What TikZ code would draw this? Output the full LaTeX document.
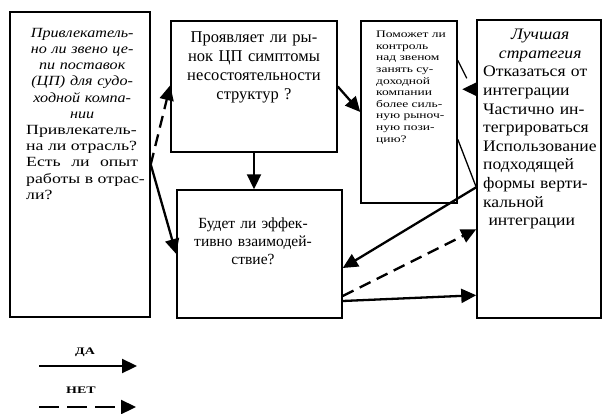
\documentclass[tikz,border=0pt]{standalone}
\usepackage{fontspec}
\setmainfont{Liberation Serif}
\usetikzlibrary{arrows.meta,calc}
\newlength\lw
\newcommand\LineL[1]{\makebox[\lw][l]{#1}}
\newcommand\LineC[1]{\makebox[\lw][c]{#1}}
\newcommand\LineS[1]{\makebox[\lw][s]{#1}}
\newcommand\wide[3]{\fontsize{#1}{#2}\selectfont\addfontfeature{FakeStretch=#3}\spaceskip=0pt\xspaceskip=0pt\relax}
\begin{document}
\begin{tikzpicture}[x=1pt,y=-1pt,
  box/.style={draw,line width=1.5pt,inner sep=0pt},
  txt/.style={inner sep=0pt,align=left},
  arr/.style={line width=2.3pt,-{Triangle[length=15pt,width=14pt]}},
  dsh/.style={arr,dash pattern=on 12pt off 7pt},
  thin/.style={line width=1.3pt}]
\useasboundingbox (0,0) rectangle (604,414);
% boxes
\node[box,minimum width=140pt,minimum height=305pt] (b1) at (80,164.5) {};
\node[box,minimum width=166pt,minimum height=131pt] (b2) at (254,86.5) {};
\node[box,minimum width=96pt,minimum height=182pt] (b3) at (409,112) {};
\node[box,minimum width=124pt,minimum height=298pt] (b4) at (539,169) {};
\node[box,minimum width=165pt,minimum height=128pt] (b5) at (259.5,254) {};
% texts
\node[txt,anchor=north west,text width=112pt,font=\wide{14}{16.2}{1.15}] (t1) at (26,28)
 {\setlength\lw{112pt}\itshape
  \LineC{Привлекатель-}\\\LineC{но ли звено це-}\\\LineC{пи поставок}\\
  \LineC{(ЦП) для судо-}\\\LineC{ходной компа-}\\\LineC{нии}\\
  \upshape\addfontfeature{FakeStretch=1.27}\spaceskip=0pt\relax
  \LineL{Привлекатель-}\\\LineL{на ли отрасль?}\\\LineS{Есть ли опыт}\\
  \LineL{работы в отрас-}\\\LineL{ли?}};
\node[txt,anchor=north,text width=150pt,font=\wide{16.5}{19}{1.0}] (t2) at (254,31)
 {\setlength\lw{150pt}%
  \LineC{Проявляет ли ры-}\\\LineC{нок ЦП симптомы}\\\LineC{несостоятельности}\\\LineC{структур ?}};
\node[txt,anchor=north west,text width=66pt,font=\wide{10}{11.6}{1.35}] (t3) at (376,31)
 {\setlength\lw{66pt}%
  \LineS{Поможет ли}\\\LineL{контроль}\\\LineS{над звеном}\\\LineS{занять су-}\\
  \LineL{доходной}\\\LineL{компании}\\\LineS{более силь-}\\\LineS{ную рыноч-}\\
  \LineS{ную пози-}\\\LineL{цию?}};
\node[txt,anchor=north west,text width=114pt,font=\wide{16}{18.6}{1.1}] (t4) at (483,29)
 {\setlength\lw{114pt}\itshape
  \LineC{Лучшая}\\\LineC{стратегия}\\
  \upshape
  \LineS{Отказаться от}\\\LineL{интеграции}\\\LineS{Частично ин-}\\
  \LineL{тегрироваться}\\\LineL{Использование}\\\LineL{подходящей}\\
  \LineS{формы верти-}\\\LineL{кальной}\\\LineL{\ интеграции}};
\node[txt,anchor=north,text width=150pt,font=\wide{15.5}{18}{1.0}] (t5) at (253,218)
 {\setlength\lw{150pt}%
  \LineC{Будет ли эффек-}\\\LineC{тивно взаимодей-}\\\LineC{ствие?}};
% connectors
\draw[dsh] (b1.east) -- ($(b2.north west)+(0,65)$);
\draw[arr] (b1.east) -- (b5.west);
\draw[arr] (b2.south) -- (b2.south |- b5.north);
\draw[arr] (b2.east) -- (b3.west);
\coordinate (p1) at ($(b3.north east)+(0,40)$);
\coordinate (p2) at ($(b3.north east)+(9,58)$);
\draw[thin] (p1) -- (p2);
\coordinate (p3) at ($(b4.north west)+(0,70)$);
\draw[arr] (p3) -- ++(-14,0);
\coordinate (p4) at ($(b3.north east)+(0,119)$);
\coordinate (p5) at ($(b4.north west)+(0,168)$);
\draw[thin] (p4) -- (p5);
\draw[arr] (p5) -- ($(b5.east)+(0,14)$);
\draw[dsh] ($(b5.east)+(0,42)$) -- ($(b4.north west)+(0,210)$);
\draw[arr] ($(b5.east)+(0,47)$) -- ($(b4.north west)+(0,276)$);
% legend
\node[inner sep=0pt,font=\bfseries\wide{10}{11}{1.4}] (da) at (85,352) {ДА};
\coordinate (la1) at (39,366);
\coordinate (la2) at (137,366);
\draw[arr] (la1) -- (la2);
\node[inner sep=0pt,font=\bfseries\wide{10}{11}{1.4}] (net) at (81,390) {НЕТ};
\coordinate (lb1) at (39,407);
\coordinate (lb2) at (136,407);
\draw[arr,dash pattern=on 20pt off 8pt] (lb1) -- (lb2);
\end{tikzpicture}
\end{document}
